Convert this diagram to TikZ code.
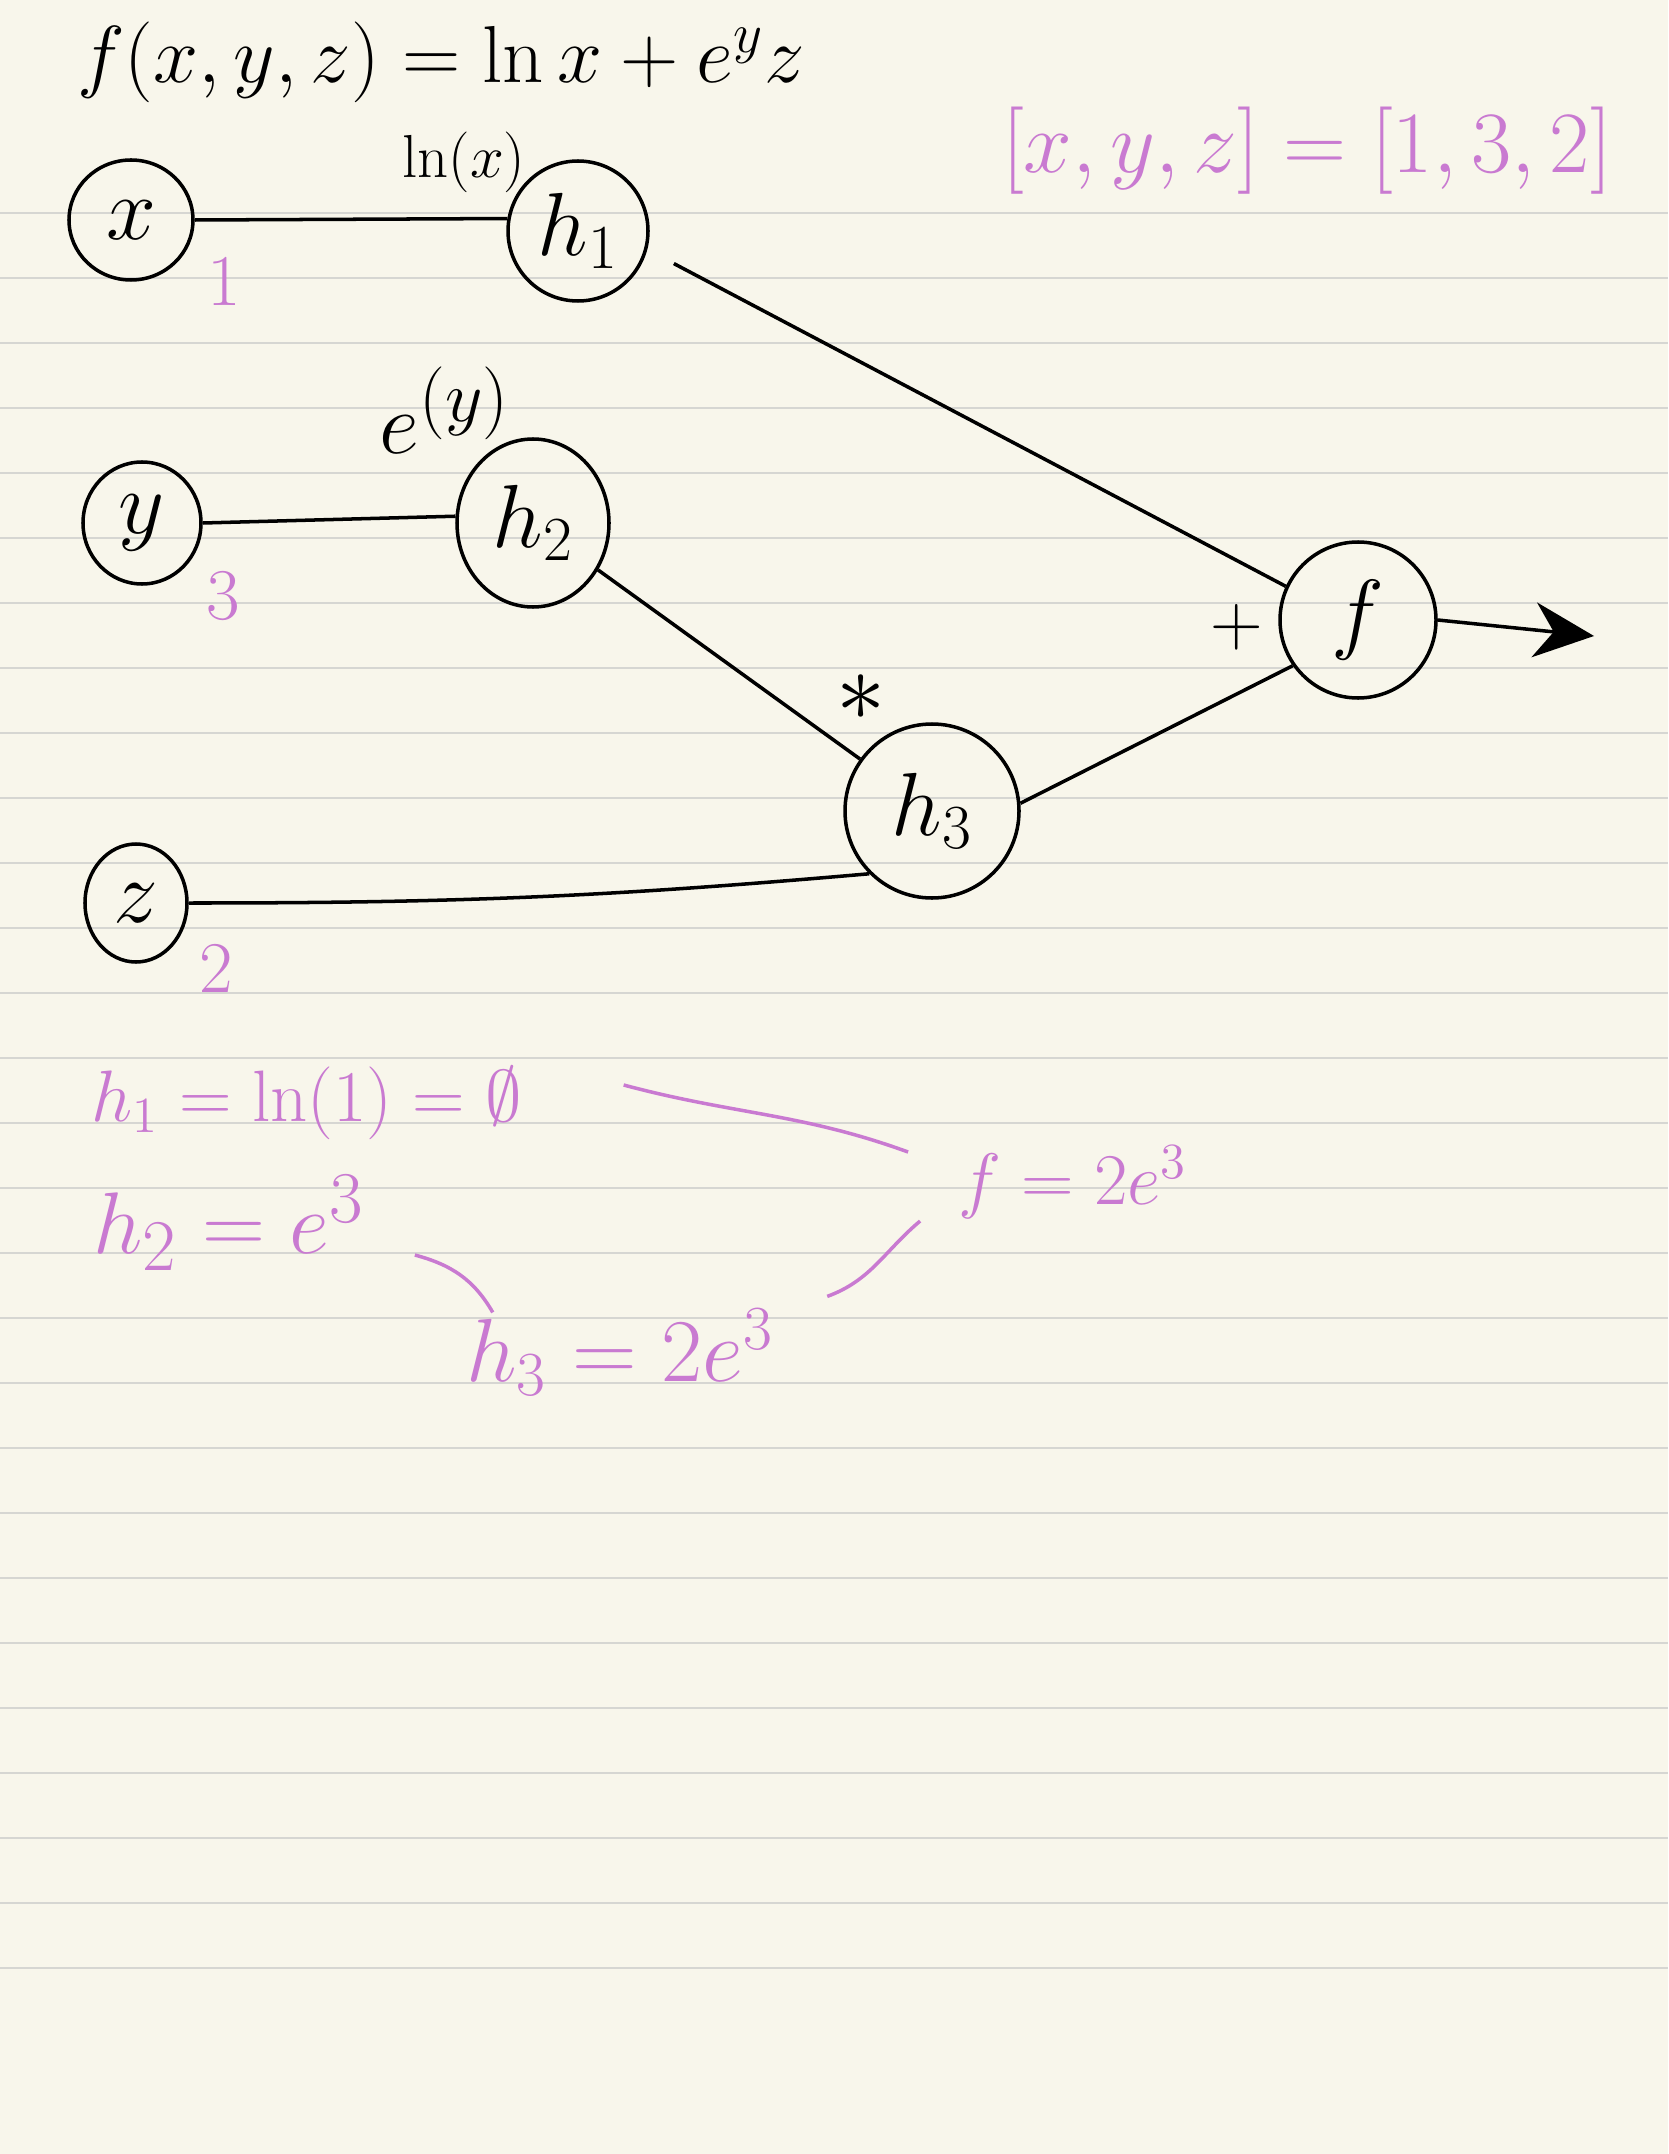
\RequirePackage{fix-cm}
\documentclass[tikz,border=0pt]{standalone}
\usepackage{amssymb}
\usetikzlibrary{shapes.geometric,arrows.meta}

\definecolor{paper}{RGB}{248,246,235}
\definecolor{ruling}{RGB}{214,214,210}
\definecolor{lilac}{RGB}{201,122,209}

\tikzset{
    var/.style={draw, ellipse, line width=1pt, inner sep=0pt, font=\fontsize{25.5}{30}\selectfont},
    op/.style={draw, circle, line width=1pt, inner sep=0pt, font=\fontsize{25.5}{30}\selectfont},
    wire/.style={line width=1pt},
    ink/.style={text=lilac, font=\fontsize{20.74}{25}\selectfont},
    link/.style={draw=lilac, line width=1pt},
}

\begin{document}
\begin{tikzpicture}
        % Size of the page
        \pgfmathsetmacro{\pagew}{16.68}
        \pgfmathsetmacro{\pageh}{21.54}
        \pgfmathsetmacro{\first}{2.13} % first ruled line
        \pgfmathsetmacro{\gap}{0.65}   % line spacing
        % Paper and ruled lines
        \fill[paper] (0,0) rectangle (\pagew,-\pageh);
        \useasboundingbox (0,0) rectangle (\pagew,-\pageh);
        \foreach \i in {0,...,27}
            \draw[ruling, line width=0.8pt] (0,-\first-\gap*\i) -- (\pagew,-\first-\gap*\i);
        % The function
        \node[font=\fontsize{23}{27}\selectfont] (formula) at (4.41,-0.62) {$f(x,y,z)=\ln x+e^{y}z$};
        \node[ink, font=\fontsize{24.88}{29}\selectfont] (point) at (13.07,-1.51) {$[x,y,z]=[1,3,2]$};
        % Inputs
        \node[var, minimum width=1.24cm, minimum height=1.20cm] (x) at (1.31,-2.20) {$x$};
        \node[var, minimum width=1.18cm, minimum height=1.22cm] (y) at (1.42,-5.23) {$y$};
        \node[var, minimum width=1.02cm, minimum height=1.18cm] (z) at (1.36,-9.03) {$z$};
        \node[ink] (xv) at (2.24,-2.82) {$1$};
        \node[ink] (yv) at (2.23,-5.96) {$3$};
        \node[ink] (zv) at (2.16,-9.69) {$2$};
        % Operations
        \node[op, minimum size=1.40cm] (h1) at (5.78,-2.31) {$h_1$};
        \node[var, minimum width=1.52cm, minimum height=1.68cm] (h2) at (5.33,-5.23) {$h_2$};
        \node[op, minimum size=1.74cm] (h3) at (9.32,-8.11) {$h_3$};
        \node[op, minimum size=1.56cm] (f) at (13.58,-6.20) {$f$};
        \coordinate (out) at (15.94,-6.36);
        % Edge labels
        \node[font=\fontsize{17.28}{20}\selectfont] (lnx) at (4.64,-1.62) {$\ln(x)$};
        \node[font=\fontsize{24.88}{29}\selectfont] (ey) at (4.45,-4.10) {$e^{(y)}$};
        \node[font=\fontsize{28}{32}\selectfont] (times) at (8.61,-6.98) {$\ast$};
        \node[font=\fontsize{20.74}{24}\selectfont] (plus) at (12.37,-6.27) {$+$};
        % Edges
        \draw[wire] (x.east) -- (h1.170);
        \draw[wire] (y.east) -- (h2.175);
        \draw[wire] (z.east) to[out=0,in=185] (h3.225);
        \draw[wire] (h2) -- (h3);
        \draw[wire, shorten <=3mm] (h1.-15) -- (f.155);
        \draw[wire] (h3.5) -- (f.215);
        \draw[wire, -{Stealth[length=6mm,width=5.5mm]}] (f.east) -- (out);
        % Forward pass values
        \node[ink] (h1v) at (3.07,-11.03) {$h_1=\ln(1)=\emptyset$};
        \node[ink, font=\fontsize{24.88}{29}\selectfont] (h2v) at (2.29,-12.23) {$h_2=e^{3}$};
        \node[ink, font=\fontsize{25.5}{30}\selectfont] (h3v) at (6.20,-13.52) {$h_3=2e^{3}$};
        \node[ink] (fv) at (10.73,-11.82) {$f=2e^{3}$};
        \draw[link] ([xshift=8.9mm,yshift=1.8mm]h1v.east) to[out=-15,in=160] ([xshift=-3.8mm,yshift=3mm]fv.west);
        \draw[link] ([xshift=3.8mm,yshift=-3.2mm]h2v.east) to[out=-15,in=120] ([xshift=3.9mm,yshift=-1.6mm]h3v.north west);
        \draw[link] ([xshift=4.1mm]h3v.north east) to[out=20,in=-140] ([xshift=-2.6mm,yshift=1mm]fv.south west);
\end{tikzpicture}
\end{document}
